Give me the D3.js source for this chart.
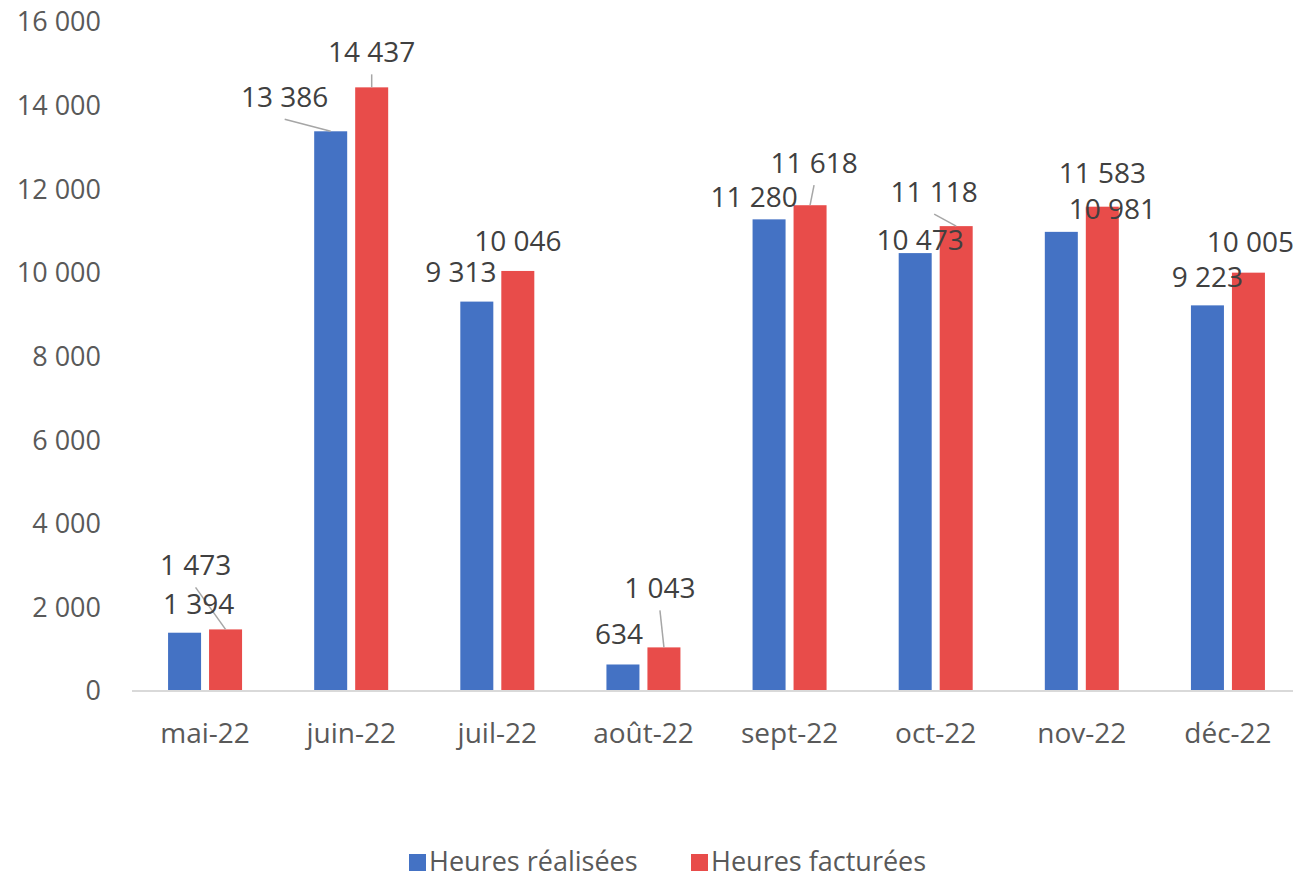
<!DOCTYPE html>
<html>
<head>
<meta charset="utf-8">
<script src="https://cdn.jsdelivr.net/npm/d3@7"></script>
<style>
  body { margin: 0; background: #fff; }
  svg text { font-family: "Open Sans", Lato, sans-serif; }
</style>
</head>
<body>
<div id="chart"></div>
<script>
// data
var months = ['mai-22', 'juin-22', 'juil-22', 'août-22', 'sept-22', 'oct-22', 'nov-22', 'déc-22'];
var seriesNames = ['Heures réalisées', 'Heures facturées'];
var realisees = [1394, 13386, 9313, 634, 11280, 10473, 10981, 9223];
var facturees = [1473, 14437, 10046, 1043, 11618, 11118, 11583, 10005];
var yTicks = [0, 2000, 4000, 6000, 8000, 10000, 12000, 14000, 16000];

// label placement (pixel offsets from the bar top, leader line or not)
var labelShift = [
    [[14, -29, false], [-30, -64, true]],
    [[-46, -34, true], [0, -35, true]],
    [[-16, -29, false], [0, -30, false]],
    [[-4, -30, false], [-4, -59, true]],
    [[-15, -22, false], [4, -42, true]],
    [[5, -13, false], [-22, -34, true]],
    [[51, -23, false], [0, -33, false]],
    [[0, -28, false], [2, -30, false]]
];

var colors = ['#4472C4', '#E84C4A'];

var width = 1293, height = 878;
var margin = { top: 22, right: 0, bottom: 187, left: 132 };
var plotRight = 1301;

var svg = d3.select('#chart')
    .append('svg')
    .attr('width', width)
    .attr('height', height);

var x0 = d3.scaleBand()
    .domain(months)
    .range([margin.left, plotRight]);

var x1 = d3.scaleBand()
    .domain([0, 1])
    .range([0, 74])
    .paddingInner(0.195);

var groupOffset = (x0.bandwidth() - 74) / 2;

var y = d3.scaleLinear()
    .domain([0, 16000])
    .range([height - margin.bottom, margin.top]);

var fmt = function(v) {
    return d3.format(',')(v).replace(/,/g, ' ');
};

// y tick labels
svg.append('g')
    .selectAll('text')
    .data(yTicks)
    .enter()
    .append('text')
    .attr('x', 101)
    .attr('y', function(d) { return y(d); })
    .attr('dy', '0.35em')
    .attr('text-anchor', 'end')
    .attr('fill', '#595959')
    .style('font-size', '27px')
    .text(fmt);

var rows = months.map(function(m, i) {
    return { month: m, values: [realisees[i], facturees[i]], idx: i };
});

var bars = [];
rows.forEach(function(r) {
    r.values.forEach(function(v, s) {
        var cx = x0(r.month) + groupOffset + x1(s) + x1.bandwidth() / 2;
        var sh = labelShift[r.idx][s];
        bars.push({ month: r.month, s: s, v: v, cx: cx, top: y(v),
                    lx: cx + sh[0], ly: y(v) + sh[1], leader: sh[2] });
    });
});

svg.append('g')
    .selectAll('rect')
    .data(bars)
    .enter()
    .append('rect')
    .attr('x', function(d) { return d.cx - x1.bandwidth() / 2; })
    .attr('y', function(d) { return d.top; })
    .attr('width', x1.bandwidth())
    .attr('height', function(d) { return y(0) - d.top; })
    .attr('fill', function(d) { return colors[d.s]; });

// baseline
svg.append('line')
    .attr('x1', margin.left)
    .attr('x2', plotRight)
    .attr('y1', y(0))
    .attr('y2', y(0))
    .attr('stroke', '#d9d9d9')
    .attr('stroke-width', 2);

// x labels
svg.append('g')
    .selectAll('text')
    .data(months)
    .enter()
    .append('text')
    .attr('x', function(d) { return x0(d) + x0.bandwidth() / 2; })
    .attr('y', 733)
    .attr('dy', '0.35em')
    .attr('text-anchor', 'middle')
    .attr('fill', '#595959')
    .style('font-size', '28px')
    .text(function(d) { return d; });

// leader lines
svg.append('g')
    .selectAll('line')
    .data(bars.filter(function(d) { return d.leader; }))
    .enter()
    .append('line')
    .attr('x1', function(d) { return d.lx; })
    .attr('y1', function(d) { return d.ly + 22; })
    .attr('x2', function(d) { return d.cx; })
    .attr('y2', function(d) { return d.top; })
    .attr('stroke', '#a6a6a6')
    .attr('stroke-width', 1.5);

// data labels
svg.append('g')
    .selectAll('text')
    .data(bars)
    .enter()
    .append('text')
    .attr('x', function(d) { return d.lx; })
    .attr('y', function(d) { return d.ly; })
    .attr('dy', '0.35em')
    .attr('text-anchor', 'middle')
    .attr('fill', '#404040')
    .style('font-size', '28px')
    .text(function(d) { return fmt(d.v); });

// legend
var legendPos = [409, 691];
var legend = svg.append('g')
    .selectAll('g')
    .data(seriesNames)
    .enter()
    .append('g')
    .attr('transform', function(d, i) { return 'translate(' + legendPos[i] + ',862)'; });

legend.append('rect')
    .attr('x', 0)
    .attr('y', -8)
    .attr('width', 17)
    .attr('height', 17)
    .attr('fill', function(d, i) { return colors[i]; });

legend.append('text')
    .attr('x', 20)
    .attr('y', 0)
    .attr('dy', '0.35em')
    .attr('fill', '#595959')
    .style('font-size', '27px')
    .text(function(d) { return d; });
</script>
</body>
</html>
